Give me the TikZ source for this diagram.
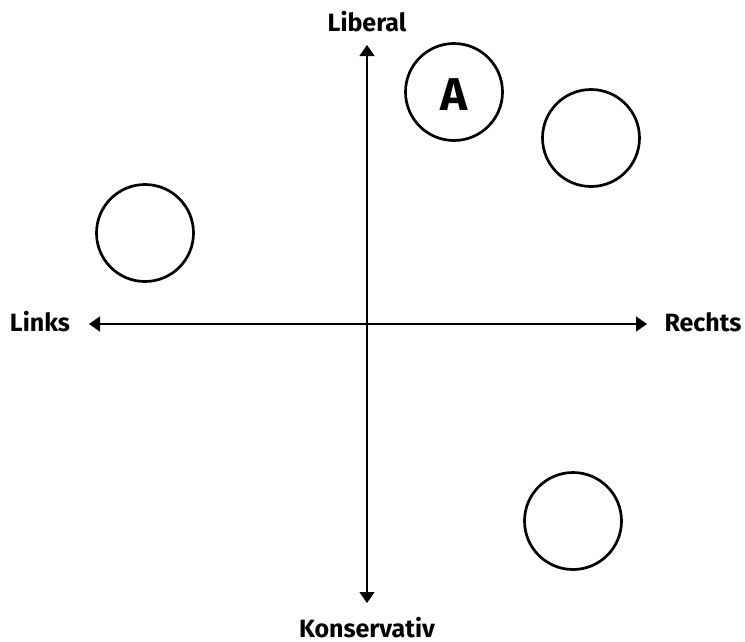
\documentclass[tikz,border=0pt]{standalone}
\usepackage{fontspec}
\setmainfont{Fira Sans}
\usetikzlibrary{arrows.meta}
\begin{document}
\begin{tikzpicture}[x=1pt,y=-1pt,
  axis/.style={line width=1.3pt,{Triangle[length=11pt,width=15pt]}-{Triangle[length=11pt,width=15pt]}},
  lab/.style={font=\bfseries\fontsize{25}{28}\selectfont,inner sep=0pt,anchor=base},
  party/.style={circle,draw,line width=2.7pt,minimum size=97pt,inner sep=0pt},
  letter/.style={font=\bfseries\fontsize{46}{50}\selectfont,inner sep=0pt}]
\useasboundingbox (0,0) rectangle (745,641);
\node[lab] (lib) at (367,31) {Liberal};
\node[lab] (kon) at (367,637) {Konservativ};
\node[lab] (links) at (40,331) {Links};
\node[lab] (rechts) at (703,331) {Rechts};
\coordinate (top) at (367,45);
\coordinate (bot) at (367,603);
\coordinate (left) at (89,324);
\coordinate (right) at (647,324);
\draw[axis] (top) -- (bot);
\draw[axis] (left) -- (right);
\node[party,label={[letter,yshift=-3pt]center:A}] (a) at (454,92) {};
\node[party] (b) at (591,138) {};
\node[party] (c) at (145,233) {};
\node[party] (d) at (573,521) {};
\end{tikzpicture}
\end{document}
